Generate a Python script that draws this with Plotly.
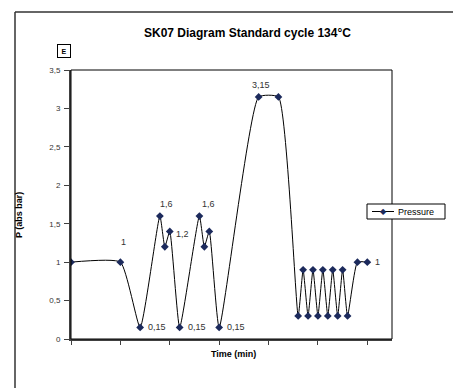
import plotly.graph_objects as go

# ---- data ----
time_min = [0, 10, 14, 18, 19, 20, 22, 26, 27, 28, 30, 38, 42,
            46, 47, 48, 49, 50, 51, 52, 53, 54, 55, 56, 58, 60]
pressure = [1, 1, 0.15, 1.6, 1.2, 1.4, 0.15, 1.6, 1.2, 1.4, 0.15, 3.15, 3.15,
            0.3, 0.9, 0.3, 0.9, 0.3, 0.9, 0.3, 0.9, 0.3, 0.9, 0.3, 1, 1]
label_index = [1, 2, 3, 5, 6, 7, 10, 11, 25]
label_text = ["1", "0,15", "1,6", "1,2", "0,15", "1,6", "0,15", "3,15", "1"]
y_tickvals = [0, 0.5, 1, 1.5, 2, 2.5, 3, 3.5]
y_ticktext = ["0", "0,5", "1", "1,5", "2", "2,5", "3", "3,5"]
x_tickvals = [0, 10, 20, 30, 40, 50, 60]
series_name = "Pressure"

# label placement (style)
label_style = [  # (xanchor, xshift, yshift)
    ("center", 3, 20), ("left", 6, 0), ("center", 7, 12), ("left", 4, -3),
    ("left", 6, 0), ("center", 9, 12), ("left", 6, 0), ("center", 2, 12),
    ("left", 6, 0),
]

FONT = "Liberation Sans, Arial, sans-serif"
W, H = 461, 388
L, R, T, B = 63, 77, 62, 57
pw, ph = W - L - R, H - T - B
MARK = "#1c2a5c"

def px_x(p):
    return (p - L) / pw

def px_y(p):
    return (H - B - p) / ph

fig = go.Figure()
fig.add_trace(go.Scatter(
    x=time_min, y=pressure, mode="lines+markers", name=series_name,
    showlegend=False,
    line=dict(color="black", width=1, shape="spline", smoothing=0.45),
    marker=dict(symbol="diamond", size=6, color=MARK,
                line=dict(color=MARK, width=0)),
))

annotations = []
for i, t, (xa, xs, ys) in zip(label_index, label_text, label_style):
    annotations.append(dict(
        x=time_min[i], y=pressure[i], text=t, showarrow=False,
        xanchor=xa, yanchor="middle", xshift=xs, yshift=ys,
        font=dict(family=FONT, size=9, color="#333333")))

annotations.append(dict(
    xref="paper", yref="paper", x=px_x(226), y=px_y(346), text="<b>Time (min)</b>",
    showarrow=False, xanchor="center", yanchor="middle",
    font=dict(family=FONT, size=9, color="black")))
annotations.append(dict(
    xref="paper", yref="paper", x=px_x(11), y=px_y(207), text="<b>P (abs bar)</b>",
    showarrow=False, xanchor="center", yanchor="middle", textangle=-90,
    font=dict(family=FONT, size=9, color="black")))
annotations.append(dict(
    xref="paper", yref="paper", x=px_x(240), y=px_y(25),
    text="<b>SK07 Diagram Standard cycle 134°C</b>",
    showarrow=False, xanchor="center", yanchor="middle",
    font=dict(family=FONT, size=12, color="black")))
annotations.append(dict(
    xref="paper", yref="paper", x=px_x(56), y=px_y(43), text="<b>E</b>",
    showarrow=False, xanchor="center", yanchor="middle",
    width=10, height=10, borderwidth=1, bordercolor="black", borderpad=1,
    font=dict(family=FONT, size=7, color="black")))
# manual legend
annotations.append(dict(
    xref="paper", yref="paper", x=px_x(388), y=px_y(203.5), text=series_name,
    showarrow=False, xanchor="left", yanchor="middle",
    font=dict(family=FONT, size=9, color="black")))
annotations.append(dict(
    xref="paper", yref="paper", x=px_x(375), y=px_y(203.5), text="◆",
    showarrow=False, xanchor="center", yanchor="middle",
    font=dict(family="DejaVu Sans", size=8, color=MARK)))

shapes = [
    # outer chart border (top, left, bottom)
    dict(type="line", xref="paper", yref="paper",
         x0=px_x(7), x1=px_x(470), y0=px_y(4), y1=px_y(4),
         line=dict(color="#333333", width=1.5)),
    dict(type="line", xref="paper", yref="paper",
         x0=px_x(7), x1=px_x(7), y0=px_y(4), y1=px_y(385),
         line=dict(color="#333333", width=1.5)),
    dict(type="line", xref="paper", yref="paper",
         x0=px_x(7), x1=px_x(470), y0=px_y(385), y1=px_y(385),
         line=dict(color="#333333", width=1.5)),
    # plot area border
    dict(type="rect", xref="paper", yref="paper", x0=0, x1=1, y0=0, y1=1,
         line=dict(color="black", width=1)),
    # legend box and line sample
    dict(type="rect", xref="paper", yref="paper",
         x0=px_x(359), x1=px_x(437), y0=px_y(211), y1=px_y(196),
         line=dict(color="black", width=1), fillcolor="white", layer="above"),
    dict(type="line", xref="paper", yref="paper",
         x0=px_x(364), x1=px_x(386), y0=px_y(203.5), y1=px_y(203.5),
         line=dict(color="black", width=1), layer="above"),
]

fig.update_layout(
    width=W, height=H, margin=dict(l=L, r=R, t=T, b=B),
    paper_bgcolor="white", plot_bgcolor="white",
    showlegend=False,
    annotations=annotations, shapes=shapes,
    font=dict(family=FONT),
)
fig.update_xaxes(range=[0, 65], tickvals=x_tickvals, showticklabels=False,
                 ticks="outside", ticklen=4, tickcolor="#404040",
                 showgrid=False, zeroline=False, showline=True,
                 linecolor="#404040", linewidth=2)
fig.update_yaxes(range=[0, 3.5], tickvals=y_tickvals, ticktext=y_ticktext,
                 ticks="outside", ticklen=5, tickcolor="#404040",
                 ticklabelstandoff=2,
                 tickfont=dict(family=FONT, size=8, color="#333333"),
                 showgrid=False, zeroline=False, showline=True,
                 linecolor="#404040", linewidth=2)

fig.write_html("out.html")
